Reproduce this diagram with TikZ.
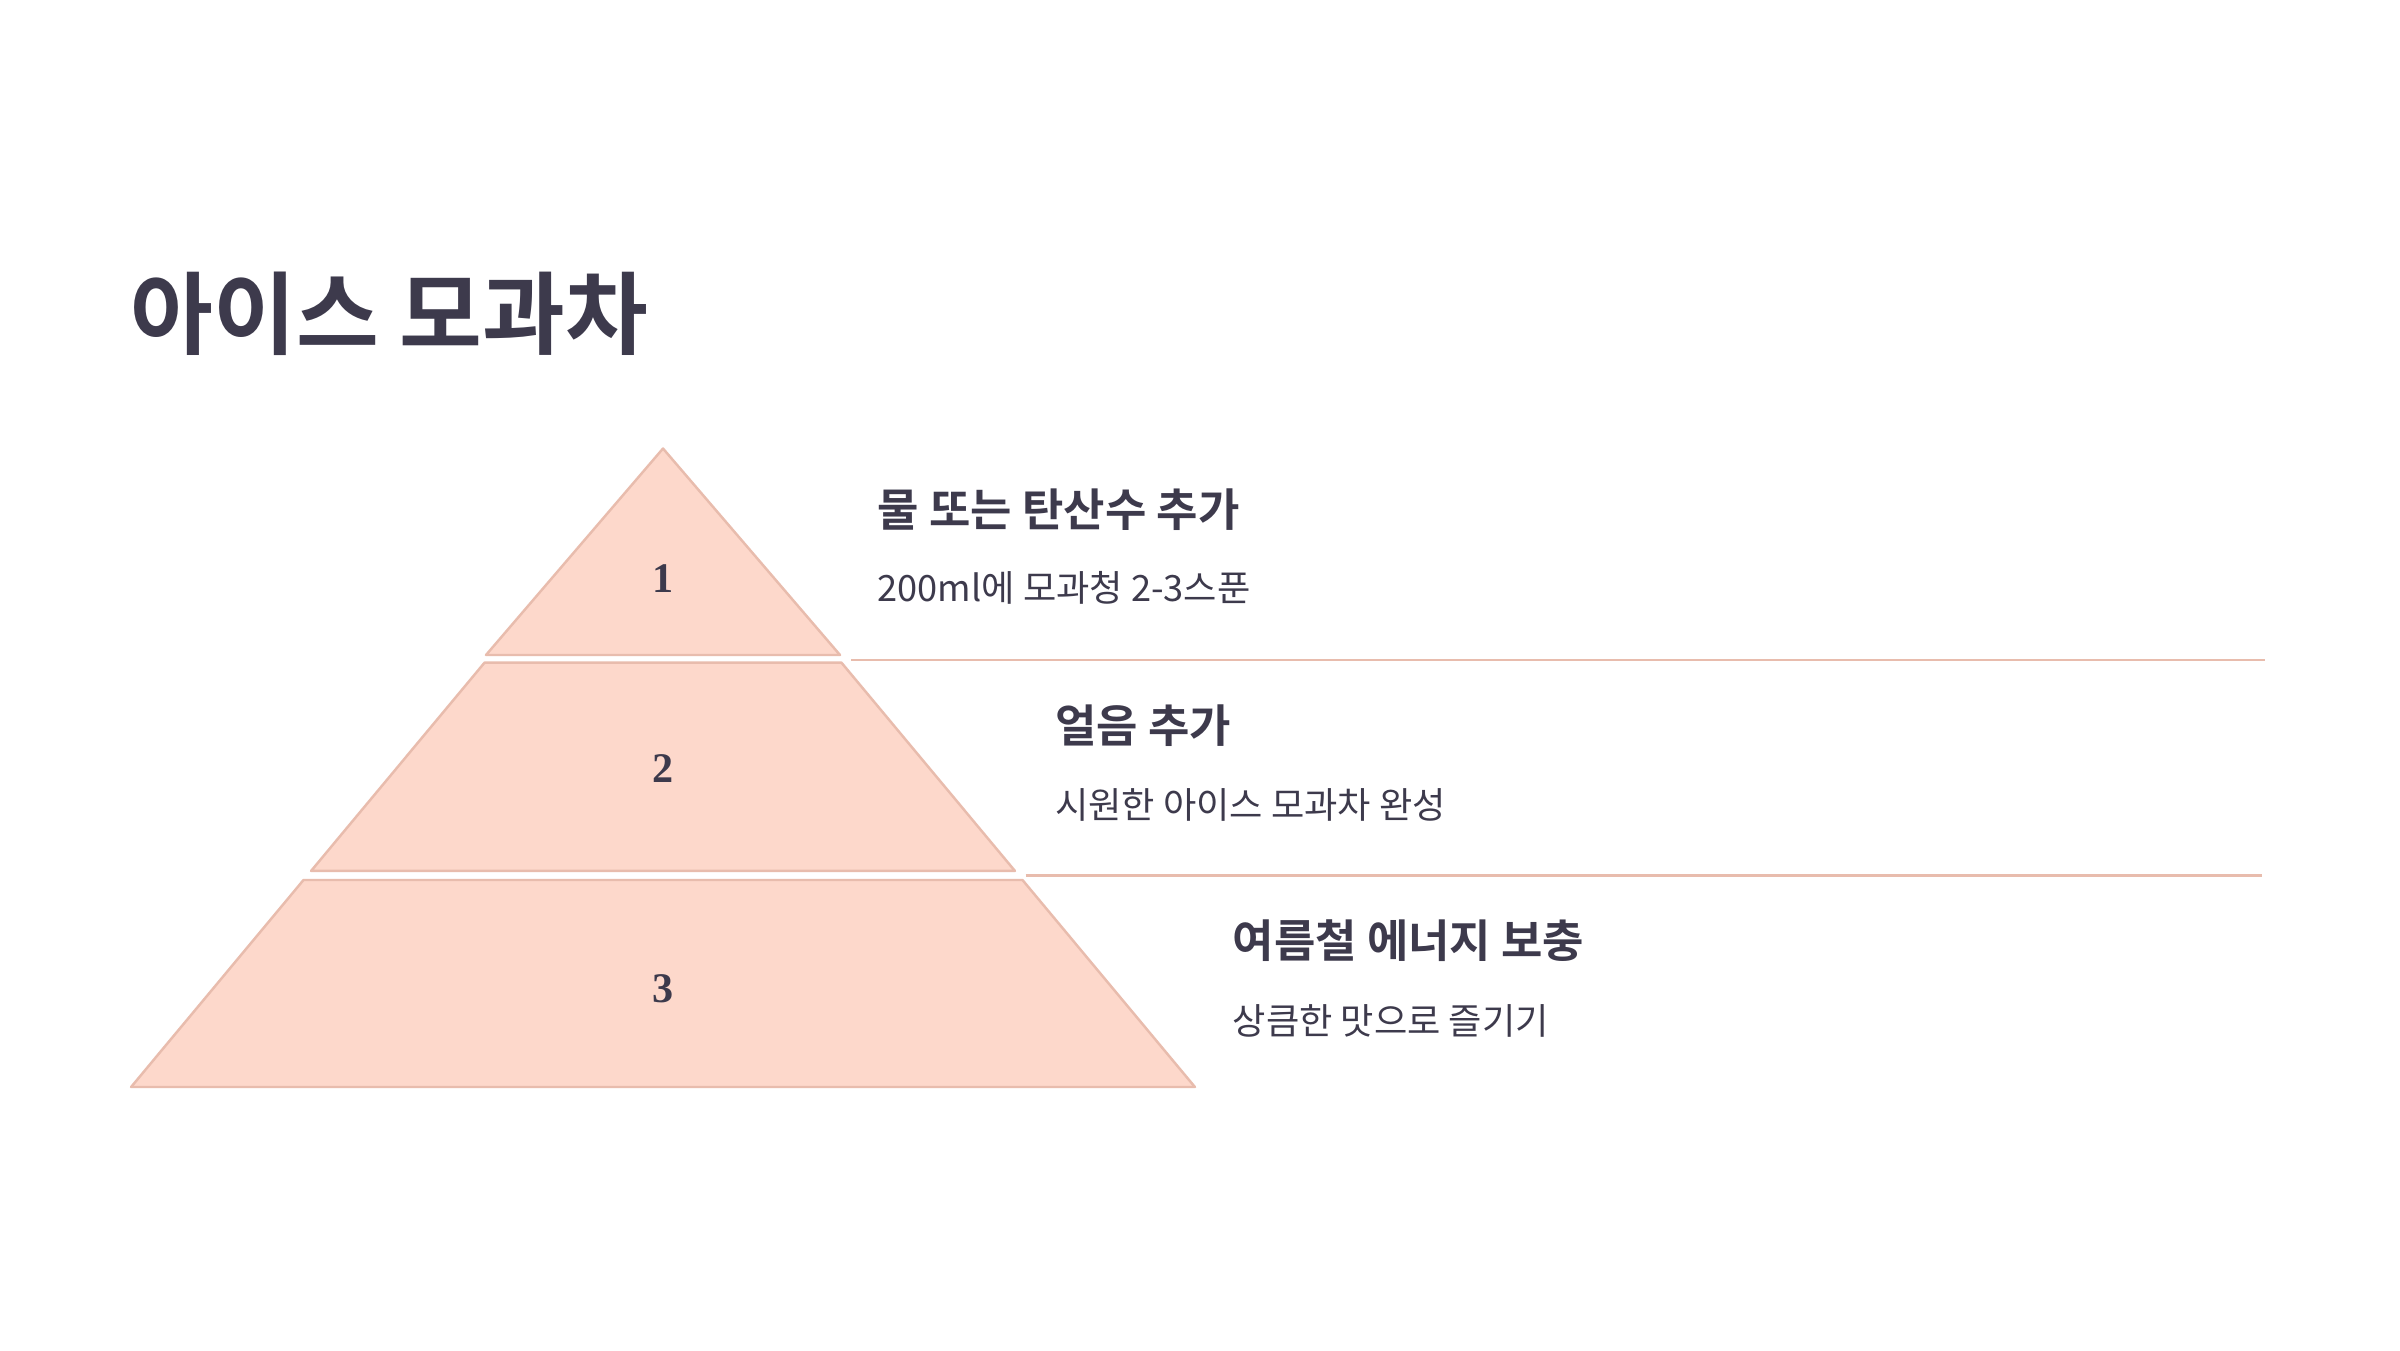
\documentclass[tikz,border=0pt]{standalone}
\usepackage{fontspec}
\setmainfont{Noto Sans CJK KR}[BoldFont={Noto Sans CJK KR Bold}]
\newfontfamily\numfont{Liberation Serif}
\definecolor{ink}{HTML}{3D3A4C}
\definecolor{peach}{HTML}{FDD8CB}
\definecolor{peachline}{HTML}{E8BCAD}
\tikzset{
  tier/.style={fill=peach, draw=peachline, line width=0.7pt, line join=round},
  rule/.style={draw=peachline, line width=0.6pt},
  head/.style={anchor=west, inner sep=0pt, text=ink, font=\bfseries\fontsize{12.8}{15}\selectfont},
  sub/.style={anchor=west, inner sep=0pt, text=ink, font=\fontsize{10.3}{12}\selectfont},
  num/.style={inner sep=0pt, text=ink, font=\numfont\bfseries\fontsize{12}{14}\selectfont},
}

\begin{document}
\begin{tikzpicture}
			%%%%% START %%%%%
			
			\useasboundingbox[fill=white] (0, 0) rectangle (24, 13.5);
			
			\node[anchor=west, inner sep=0pt, text=ink, font=\bfseries\fontsize{25.6}{30}\selectfont] (title) at (1.30, 10.36) {아이스 모과차};
			
			% pyramid, cut in three tiers
			\draw[tier] (6.63, 9.015) -- (8.40, 6.95) -- (4.86, 6.95) -- cycle;
			\draw[tier] (4.845, 6.873) -- (8.415, 6.873) -- (10.149, 4.791) -- (3.111, 4.791) -- cycle;
			\draw[tier] (3.035, 4.70) -- (10.225, 4.70) -- (11.949, 2.63) -- (1.311, 2.63) -- cycle;
			
			\node[num] (num1) at (6.63, 7.714) {1};
			\node[num] (num2) at (6.63, 5.816) {2};
			\node[num] (num3) at (6.63, 3.612) {3};
			
			% separators
			\coordinate (rule1a) at (8.51, 6.903);
			\coordinate (rule1b) at (22.65, 6.903);
			\coordinate (rule2a) at (10.255, 4.745);
			\coordinate (rule2b) at (22.62, 4.745);
			\draw[rule] (rule1a) -- (rule1b);
			\draw[rule] (rule2a) -- (rule2b);
			
			\node[head] (head1) at (8.77, 8.403) {물 또는 탄산수 추가};
			\node[sub] (sub1) at (8.77, 7.623) {200ml에 모과청 2-3스푼};
			
			\node[head] (head2) at (10.546, 6.245) {얼음 추가};
			\node[sub] (sub2) at (10.546, 5.45) {시원한 아이스 모과차 완성};
			
			\node[head] (head3) at (12.32, 4.09) {여름철 에너지 보충};
			\node[sub] (sub3) at (12.32, 3.29) {상큼한 맛으로 즐기기};
			
			%%%%% END %%%%%
\end{tikzpicture}
\end{document}
